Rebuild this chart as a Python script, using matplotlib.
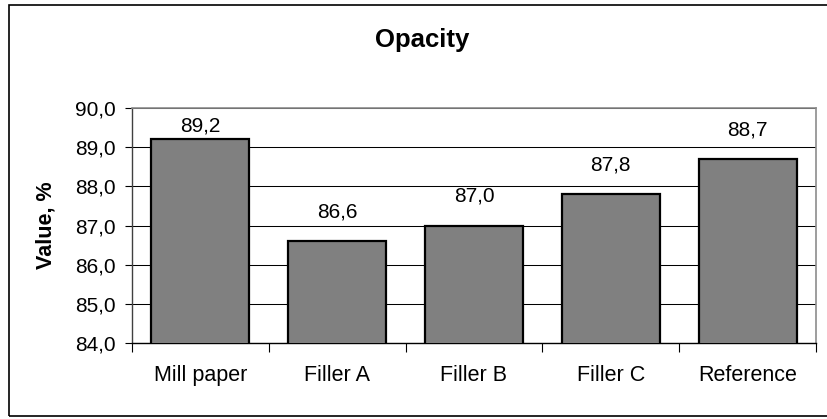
import matplotlib
matplotlib.use("Agg")
import matplotlib.pyplot as plt
from matplotlib.patches import Rectangle
from matplotlib.ticker import FixedLocator, FuncFormatter

plt.rcParams['font.family'] = ['Liberation Sans', 'DejaVu Sans']

categories = ['Mill paper', 'Filler A', 'Filler B', 'Filler C', 'Reference']
opacity = [89.2, 86.6, 87.0, 87.8, 88.7]
y_ticks = [84.0, 85.0, 86.0, 87.0, 88.0, 89.0, 90.0]


def comma(v, pos=None):
    return f"{v:.1f}".replace('.', ',')


fig = plt.figure(figsize=(8.27, 4.19), dpi=100)
ax = fig.add_axes([132 / 827, 1 - 343 / 419, 684 / 827, 235 / 419])

x = list(range(len(categories)))
ax.bar(x, opacity, width=0.715, color='#808080', edgecolor='black',
       linewidth=1.6, zorder=3)

ax.set_ylim(84, 90)
ax.set_xlim(-0.5, len(categories) - 0.5)
ax.set_yticks(y_ticks)
ax.yaxis.set_major_formatter(FuncFormatter(comma))
ax.grid(axis='y', color='black', linewidth=0.75, zorder=0)

# category boundaries carry the tick marks, names sit in between
ax.xaxis.set_major_locator(FixedLocator([i - 0.5 for i in range(len(categories) + 1)]))
ax.xaxis.set_major_formatter(FuncFormatter(lambda v, p: ''))
ax.xaxis.set_minor_locator(FixedLocator(x))
ax.set_xticklabels(categories, minor=True)
ax.tick_params(axis='x', which='major', direction='out', length=6.5, width=0.8)
ax.tick_params(axis='x', which='minor', length=0, pad=16, labelsize=15.5)
ax.tick_params(axis='y', direction='out', length=5, width=0.8, pad=7, labelsize=15)

for side in ['top', 'right']:
    ax.spines[side].set_color('#8c8c8c')
    ax.spines[side].set_linewidth(1.2)
ax.spines['left'].set_color('#404040')
ax.spines['left'].set_linewidth(1.0)
ax.spines['bottom'].set_linewidth(1.0)

for xi, v in zip(x, opacity):
    ax.text(xi, min(v + 0.61, 89.4), comma(v), ha='center', va='baseline',
            fontsize=15, zorder=4)

ax.set_ylabel('Value, %', fontsize=15.5, fontweight='bold')
ax.yaxis.set_label_coords(-0.11, 0.5)

fig.text(422 / 827, 1 - 40 / 419, 'Opacity', ha='center', va='center',
         fontsize=18.5, fontweight='bold')

# chart frame
fig.patches.append(Rectangle((9 / 827, 1 - 416 / 419), 1.0, 411 / 419,
                             transform=fig.transFigure, fill=False,
                             edgecolor='black', linewidth=1.2))

fig.savefig('out.png', dpi=100)
